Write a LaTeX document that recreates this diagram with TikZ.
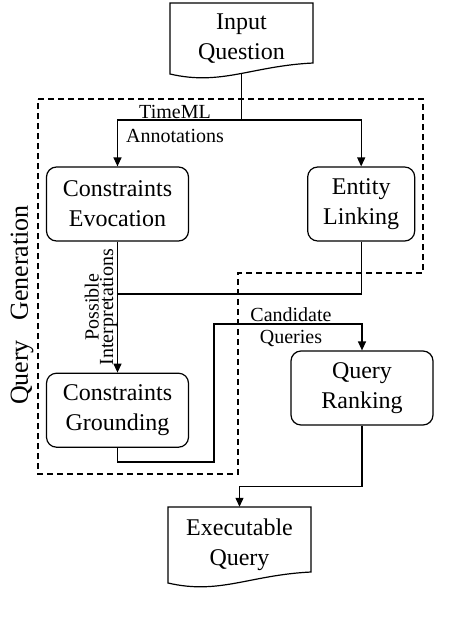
\documentclass[tikz,border=0pt]{standalone}
\usepackage{fontspec}
\setmainfont{Liberation Serif}
\usepackage{tikz}
\usetikzlibrary{arrows.meta,positioning,calc}

\newcommand{\boxfont}{\fontsize{24pt}{30pt}\selectfont}
\newcommand{\lblfont}{\fontsize{20pt}{24pt}\selectfont}
% document outline with a wavy bottom: node, height above centre, height below centre
\newcommand{\docoutline}[3]{%
    \draw[line width=1.2pt] ($(#1.center)+(-71.5,-#2)$) -- ($(#1.center)+(71.5,-#2)$)
        -- ($(#1.center)+(71.5,#3)$)
        .. controls ($(#1.center)+(10,#3+3)$) and ($(#1.center)+(-20,#3+23)$)
        .. ($(#1.center)+(-71.5,#3+11)$) -- cycle;}

\begin{document}
\begin{tikzpicture}[
        x=1pt, y=-1pt,
        box/.style={rectangle, draw, rounded corners=10pt, line width=1.2pt, minimum width=142pt, minimum height=74pt, align=center, font=\boxfont},
        doc/.style={rectangle, minimum width=143pt, align=center, font=\boxfont},
        lbl/.style={align=center, inner sep=0pt, font=\lblfont},
        con/.style={line width=1.2pt},
        arr/.style={-{Triangle[length=9pt,width=8pt]}, line width=1.2pt},
        group/.style={line width=1.2pt, dash pattern=on 6pt off 4pt},
        ]
        \useasboundingbox (0,0) rectangle (468,622);

        % Query generation area
        \draw[group] (38,99) -- (423,99) -- (423,273) -- (238,273) -- (238,474) -- (38,474) -- cycle;
        \node[lbl, rotate=90, font=\fontsize{26pt}{31pt}\selectfont] (qgen) at (22,305) {Query~~~Generation};

        % Input and output documents
        \node[doc, minimum height=72pt] (input) at (241.5,39) {Input\\Question};
        \docoutline{input}{36}{24}
        \node[doc, minimum height=76pt] (exec) at (239.5,545) {Executable\\Query};
        \docoutline{exec}{38}{27}

        % Processing steps
        \node[box] (evoc) at (117.5,204) {Constraints\\Evocation};
        \node[box, minimum width=107pt, right=118pt of evoc] (link) {Entity\\Linking};
        \node[box, below=131pt of evoc] (ground) {Constraints\\Grounding};
        \node[box] (rank) at (362,388) {Query\\Ranking};

        % Helper points
        \coordinate (input-b) at ($(input.center)+(0,34)$);
        \coordinate (split) at (241.5,120);
        \coordinate (merge) at (117.5,294);
        \coordinate (detour) at (214,462);
        \coordinate (detour-top) at (214,324);

        % Data flow
        \draw[con] (input-b) -- (split);
        \draw[arr] (split) -| (evoc.north);
        \draw[arr] (split) -| (link.north);
        \draw[arr] (evoc) -- (ground);
        \draw[con] (link.south) |- (merge);
        \draw[arr] (ground.south) |- (detour) -- (detour-top) -| (rank.north);
        \draw[arr] (rank.south) -- ++(0,61) -| (exec.north);

        % Flow labels
        \node[lbl, anchor=north] (timeml) at (175,105) {TimeML\\Annotations};
        \node[lbl, rotate=90, font=\fontsize{20pt}{13pt}\selectfont] (interp) at (101,307) {Possible\\Interpretations};
        \node[lbl, anchor=north, font=\fontsize{20pt}{22pt}\selectfont] (cand) at (291,307) {Candidate\\Queries};

    \end{tikzpicture}
\end{document}
